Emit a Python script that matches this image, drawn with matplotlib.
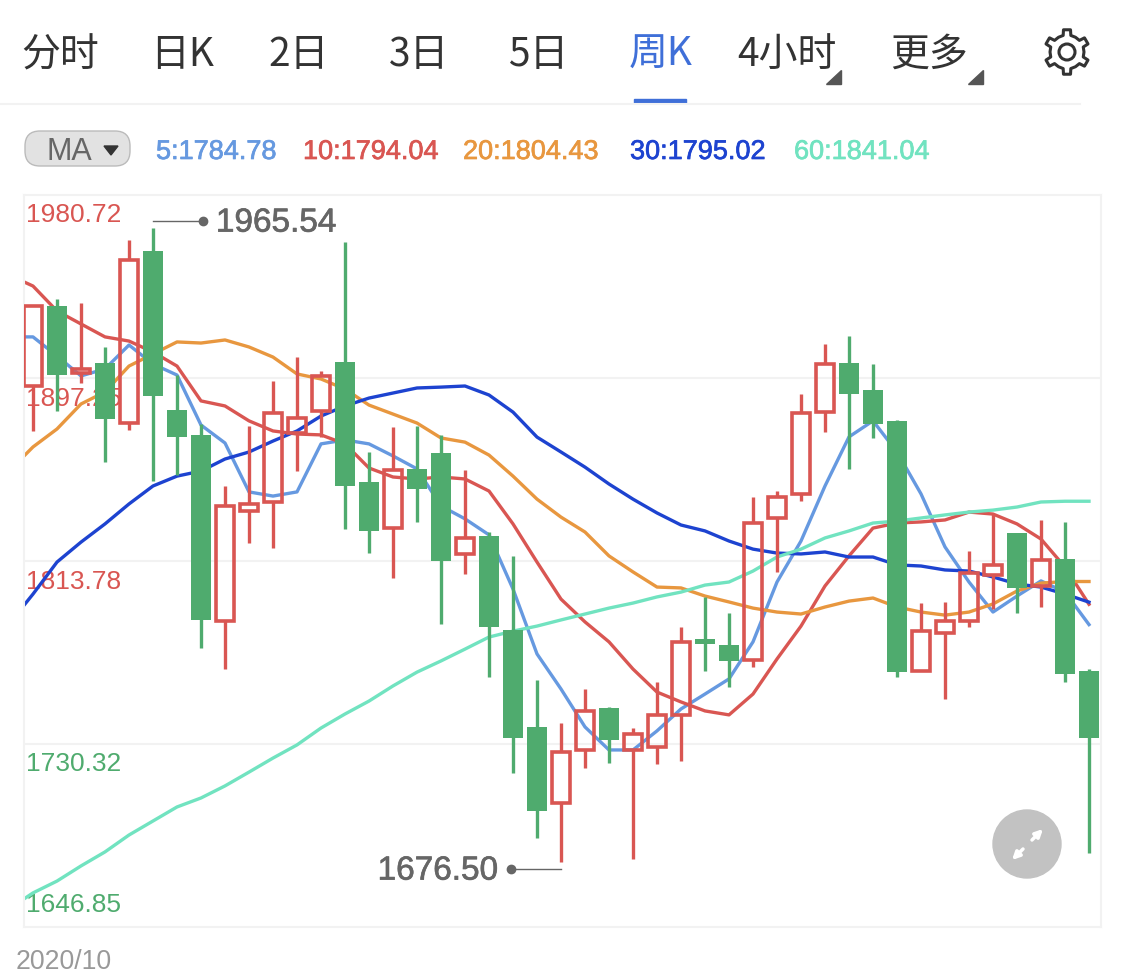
import numpy as np
from matplotlib import pyplot as plt
from matplotlib import patheffects as pe
from matplotlib.patches import Circle, FancyBboxPatch, Polygon, Rectangle

# weekly candles
opens = [1893.6, 1930.1, 1899.5, 1904.1, 1876.7, 1955.2, 1882.7, 1871.3, 1786.4, 1836.6, 1840.7, 1872.2, 1882.2, 1904.6, 1849.8,
         1828.8, 1855.8, 1863.1, 1817.0, 1825.2, 1782.3, 1738.1, 1703.4, 1727.6, 1746.8, 1727.6, 1729.0, 1743.6, 1778.2, 1775.5,
         1768.6, 1833.4, 1844.4, 1881.8, 1904.1, 1891.8, 1877.7, 1763.6, 1781.0, 1786.4, 1807.4, 1826.6, 1802.4, 1814.7, 1763.6]
closes = [1930.1, 1898.6, 1901.4, 1878.6, 1951.1, 1889.1, 1870.4, 1786.9, 1838.9, 1839.8, 1881.3, 1879.0, 1898.2, 1848.0, 1827.5,
          1855.3, 1846.6, 1813.8, 1824.3, 1783.7, 1733.1, 1699.8, 1726.7, 1745.4, 1732.2, 1734.9, 1743.6, 1776.9, 1775.9, 1768.2,
          1831.1, 1843.0, 1881.3, 1903.6, 1890.0, 1876.3, 1763.2, 1781.9, 1786.4, 1808.3, 1812.0, 1801.5, 1814.3, 1762.3, 1733.1]
highs = [1930.1, 1933.3, 1931.5, 1911.4, 1960.2, 1965.54, 1898.6, 1876.3, 1848.0, 1875.4, 1895.9, 1906.8, 1900.5, 1959.3, 1863.5,
         1874.9, 1875.4, 1871.3, 1855.3, 1827.0, 1816.1, 1759.5, 1739.9, 1755.4, 1747.2, 1737.6, 1758.6, 1783.7, 1797.4, 1790.1,
         1843.0, 1845.7, 1890.0, 1912.8, 1916.4, 1903.6, 1878.1, 1794.6, 1795.1, 1818.4, 1835.2, 1826.6, 1832.5, 1831.6, 1764.5]
lows = [1873.1, 1882.2, 1895.0, 1859.0, 1873.5, 1850.3, 1853.0, 1774.1, 1764.5, 1822.0, 1819.7, 1854.8, 1870.4, 1828.4, 1817.4,
        1806.0, 1831.6, 1785.1, 1807.9, 1760.9, 1717.1, 1687.5, 1676.50, 1719.4, 1721.7, 1677.9, 1721.2, 1722.6, 1763.6, 1756.3,
        1765.5, 1808.8, 1841.2, 1872.6, 1855.8, 1869.9, 1760.9, 1763.6, 1750.9, 1783.7, 1791.9, 1790.1, 1792.8, 1758.6, 1680.6]

# moving averages, the first value of each belongs to the week before the window
ma5 = [1916.0, 1916.0, 1907.3, 1898.2, 1901.4, 1912.3, 1903.6, 1898.6, 1875.8, 1867.6, 1845.3, 1843.4, 1845.3, 1867.2, 1869.0, 1867.2,
       1861.7, 1855.8, 1838.9, 1833.0, 1825.7, 1801.0, 1771.4, 1755.4, 1738.1, 1727.6, 1727.6, 1736.3, 1746.3, 1753.1, 1760.0,
       1776.9, 1804.2, 1822.9, 1848.0, 1870.4, 1877.7, 1863.5, 1844.4, 1820.2, 1804.2, 1790.5, 1797.8, 1804.7, 1799.6, 1784.78]
ma10 = [1944.2, 1939.2, 1927.8, 1921.9, 1916.0, 1914.1, 1909.1, 1902.7, 1886.8, 1884.5, 1877.7, 1873.1, 1871.7, 1871.3, 1867.2, 1856.2,
        1852.1, 1851.2, 1852.1, 1851.2, 1845.7, 1830.7, 1813.3, 1796.4, 1786.0, 1776.9, 1764.5, 1754.0, 1749.5, 1745.4, 1743.6,
        1753.1, 1769.1, 1784.1, 1802.4, 1816.1, 1828.8, 1831.1, 1831.6, 1832.5, 1836.1, 1835.2, 1830.7, 1823.8, 1811.0, 1794.04]
ma20 = [1854.8, 1865.8, 1874.0, 1885.4, 1890.9, 1902.7, 1908.2, 1913.7, 1913.2, 1914.6, 1911.4, 1906.8, 1899.1, 1896.8, 1892.2, 1884.9,
        1880.8, 1876.7, 1869.9, 1868.0, 1862.1, 1852.5, 1842.0, 1833.8, 1827.0, 1816.1, 1808.8, 1801.9, 1801.5, 1797.8, 1795.1,
        1792.3, 1790.5, 1789.6, 1792.8, 1795.5, 1796.9, 1792.8, 1790.5, 1789.1, 1790.5, 1794.2, 1800.1, 1803.7, 1804.43, 1804.43]
ma30 = [1785.1, 1798.7, 1813.3, 1822.4, 1830.7, 1839.8, 1848.0, 1852.5, 1854.8, 1860.3, 1863.5, 1868.5, 1873.1, 1879.9, 1884.5, 1888.1,
        1890.4, 1892.7, 1893.1, 1893.6, 1889.5, 1881.7, 1870.3, 1863.5, 1856.6, 1848.9, 1842.0, 1835.7, 1830.2, 1827.5, 1822.9,
        1819.2, 1817.4, 1817.0, 1817.9, 1815.6, 1815.6, 1812.0, 1811.5, 1809.7, 1809.2, 1806.5, 1803.3, 1801.9, 1798.7, 1795.02]
ma60 = [1655.1, 1662.4, 1667.8, 1674.7, 1681.1, 1688.8, 1695.2, 1701.6, 1705.7, 1711.2, 1717.5, 1723.9, 1729.9, 1737.6, 1744.0, 1749.9,
        1756.8, 1763.1, 1768.2, 1773.6, 1779.1, 1781.8, 1784.1, 1786.9, 1789.6, 1792.3, 1794.6, 1797.4, 1799.6, 1802.8, 1804.2,
        1809.2, 1815.6, 1819.2, 1824.3, 1827.5, 1831.1, 1832.0, 1833.4, 1834.8, 1836.1, 1837.0, 1838.4, 1840.7, 1841.04, 1841.04]

ticks = [1980.72, 1897.25, 1813.78, 1730.32, 1646.85]
tick_labels = ['1980.72', '1897.25', '1813.78', '1730.32', '1646.85']
tabs = ['分时', '日K', '2日', '3日', '5日', '周K', '4小时', '更多']
legend_labels = ['5:1784.78', '10:1794.04', '20:1804.43', '30:1795.02', '60:1841.04']
date_label = '2020/10'

RED = '#d95652'
GREEN = '#4fab6e'
MA_COLORS = ['#6699e0', '#d95652', '#e8973f', '#1d43d0', '#71e3c0']
LIGHT = '#f2f2f2'
W, H = 1125, 979

plt.rcParams['font.family'] = ['Liberation Sans', 'DejaVu Sans']
fig = plt.figure(figsize=(W / 100, H / 100), dpi=100)


def heavier(color, w=0.5):
    # target text is a touch heavier than Liberation regular
    return [pe.withStroke(linewidth=w, foreground=color)]


# chart area
ax = fig.add_axes([24 / W, (H - 928) / H, (1101 - 24) / W, (928 - 196) / H])
ax.set_xlim(-0.375, 44.5)
ax.set_ylim(ticks[-1], ticks[0])
ax.set_xticks([])
ax.set_yticks([])
for s in ax.spines.values():
    s.set_color(LIGHT)
    s.set_linewidth(1.5)
for t in ticks[1:-1]:
    ax.axhline(t, color=LIGHT, linewidth=1.5, zorder=0.5)

# price labels sit under the candles
offsets = [-19, -20, -20, -19, 23]
for t, lab, off in zip(ticks, tick_labels, offsets):
    c = RED if t > 1800 else GREEN
    ax.annotate(lab, xy=(0, t), xycoords=('axes fraction', 'data'), xytext=(1.5, off * 0.72),
                textcoords='offset points', va='center', ha='left', fontsize=19, color=c, zorder=1)

weeks = np.arange(len(opens))
line_x = np.arange(-1, len(opens))
for vals, c in zip([ma5, ma10, ma20, ma30, ma60], MA_COLORS):
    ax.plot(line_x, vals, color=c, linewidth=2.4, zorder=2, solid_joinstyle='round')

for i in weeks:
    top = max(opens[i], closes[i])
    bot = min(opens[i], closes[i])
    if closes[i] >= opens[i]:
        # hollow body, no wick inside it
        ax.bar(i, top - bot, bottom=bot, width=0.73, facecolor='none', edgecolor=RED, linewidth=2.6, zorder=3)
        ax.vlines(i, top, highs[i], color=RED, linewidth=2.4, zorder=3)
        ax.vlines(i, lows[i], bot, color=RED, linewidth=2.4, zorder=3)
    else:
        ax.vlines(i, lows[i], highs[i], color=GREEN, linewidth=2.4, zorder=3)
        ax.bar(i, top - bot, bottom=bot, width=0.84, color=GREEN, zorder=3.1)

# high and low markers
hi = int(np.argmax(highs))
lo = int(np.argmin(lows))
ax.plot([hi, hi + 2.1], [highs[hi] + 3.3] * 2, color='#666666', linewidth=1, zorder=4)
ax.plot([hi + 2.1], [highs[hi] + 3.3], 'o', color='#666666', markersize=6, zorder=4)
ax.annotate('%.2f' % highs[hi], xy=(hi + 2.1, highs[hi] + 3.3), xytext=(9, -1.5), textcoords='offset points',
            va='center', ha='left', fontsize=24, color='#666666', zorder=4, path_effects=heavier('#666666', 0.5))
ax.plot([lo - 2.1, lo], [lows[lo] - 3.2] * 2, color='#666666', linewidth=1, zorder=4)
ax.plot([lo - 2.1], [lows[lo] - 3.2], 'o', color='#666666', markersize=6, zorder=4)
ax.annotate('%.2f' % lows[lo], xy=(lo - 2.1, lows[lo] - 3.2), xytext=(-9, -1.5), textcoords='offset points',
            va='center', ha='right', fontsize=24, color='#666666', zorder=4, path_effects=heavier('#666666', 0.5))

# app chrome, on an overlay in pixel units
ui = fig.add_axes([0, 0, 1, 1], facecolor='none', zorder=5)
ui.set_xlim(0, W)
ui.set_ylim(H, 0)
ui.axis('off')

tab_x = [60, 182, 299, 419, 538, 661, 787, 929]
for name, x in zip(tabs, tab_x):
    c = '#3f6fd8' if name == '周K' else '#333333'
    ui.text(x, 55, name, ha='center', va='center', fontsize=28, color=c,
            family=['Noto Sans CJK SC', 'DejaVu Sans'])
ui.add_patch(Polygon([(841, 71), (841, 85), (826, 85)], color='#555555'))
ui.add_patch(Polygon([(983, 71), (983, 85), (968, 85)], color='#555555'))
ui.add_patch(Rectangle((634, 100), 52, 4, color='#3f6fd8'))
ui.plot([0, 1080], [105, 105], color=LIGHT, linewidth=1.5)

# gear
angs = np.radians(np.arange(0, 360, 60) + 30)
gear = []
for a in angs:
    for d, r in [(-30, 17), (-13, 17), (-9, 22.5), (9, 22.5), (13, 17)]:
        gear.append((1067 + r * np.cos(a + np.radians(d)), 53 + r * np.sin(a + np.radians(d))))
ui.add_patch(Polygon(gear, closed=True, fill=False, edgecolor='#333333', linewidth=2.2, joinstyle='round'))
ui.add_patch(Circle((1067, 53), 8, fill=False, edgecolor='#333333', linewidth=2.2))

# MA pill and legend
ui.add_patch(FancyBboxPatch((25, 132), 105, 35, boxstyle='round,pad=0,rounding_size=15', facecolor='#e2e2e2',
                            edgecolor='#bbbbbb', linewidth=1))
ui.text(69, 152, 'MA', ha='center', va='center', fontsize=22, color='#666666')
ui.add_patch(Polygon([(104, 147), (118, 147), (111, 156)], color='#333333'))
legend_x = [156, 303, 463, 630, 794]
for lab, x, c in zip(legend_labels, legend_x, MA_COLORS):
    ui.text(x, 153, lab, ha='left', va='center', fontsize=19.5, color=c, path_effects=heavier(c))

ui.text(16, 962, date_label, ha='left', va='center', fontsize=19.2, color='#999999')

# expand button
ui.add_patch(Circle((1027, 845), 34, color='#c2c2c2'))
ui.annotate('', xy=(1043, 830), xytext=(1032, 841), arrowprops=dict(arrowstyle='-|>', color='white', lw=2.5, mutation_scale=11, shrinkA=0, shrinkB=0))
ui.annotate('', xy=(1012, 861), xytext=(1023, 850), arrowprops=dict(arrowstyle='-|>', color='white', lw=2.5, mutation_scale=11, shrinkA=0, shrinkB=0))

fig.savefig('out.png', dpi=100)
